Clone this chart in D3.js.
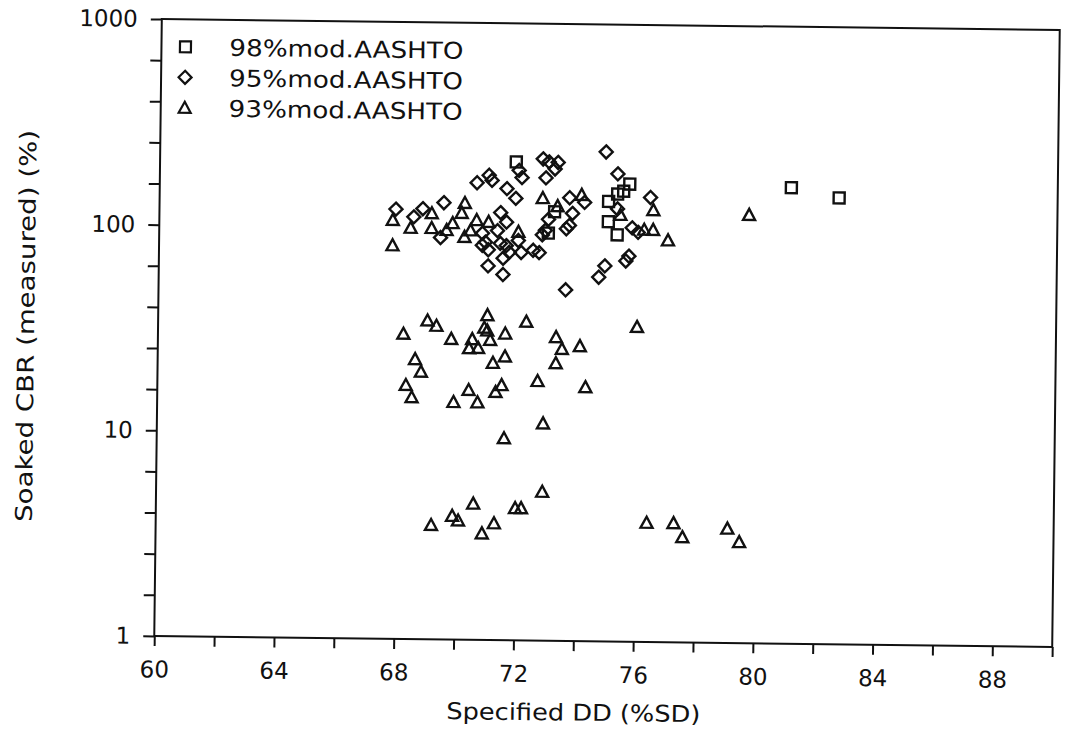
<!DOCTYPE html>
<html>
<head>
<meta charset="utf-8">
<script src="https://cdn.jsdelivr.net/npm/d3@7"></script>
<style>
  html, body { margin: 0; background: #fff; }
  svg { display: block; }
  text { font-family: "DejaVu Sans", "Liberation Sans", sans-serif; fill: #111; }
</style>
</head>
<body>
<svg id="chart" width="1067" height="734"></svg>
<script>
// Legend entries, one per compaction level
const seriesNames = ["98%mod.AASHTO", "95%mod.AASHTO", "93%mod.AASHTO"];

// [specified DD (%SD), soaked CBR (%)]
const mod98 = [
  [71.9, 212], [75.7, 168], [75.5, 155], [75.3, 150], [75.0, 138], [75.0, 110],
  [75.3, 95], [73.0, 96], [73.2, 122], [81.1, 165], [82.7, 148]
];

const mod95 = [
  [74.9, 240], [72.8, 220], [73.0, 213], [73.3, 212], [73.2, 197], [72.0, 193],
  [72.1, 178], [71.0, 182], [71.1, 172], [70.6, 167], [72.9, 178], [75.3, 188],
  [71.6, 157], [71.9, 141], [73.7, 143], [74.2, 136], [76.4, 145], [75.3, 127],
  [67.9, 123], [68.5, 113], [68.8, 124], [69.5, 133], [71.4, 120], [71.6, 108],
  [73.0, 112], [73.8, 120], [75.8, 103], [69.4, 90], [70.9, 86], [70.8, 83],
  [70.8, 95], [71.3, 98], [71.4, 85], [71.6, 83], [71.7, 77], [71.5, 72],
  [72.0, 88], [72.8, 94], [72.9, 99], [73.6, 101], [73.7, 105], [71.0, 79],
  [72.1, 77], [72.5, 79], [72.7, 77], [71.0, 66], [71.5, 60], [75.7, 75],
  [75.6, 71], [74.9, 67], [74.7, 59], [73.6, 51], [76.0, 98]
];

const mod93 = [
  // upper band
  [72.8, 142], [74.1, 148], [75.4, 119], [76.5, 126], [67.8, 109], [69.1, 118],
  [70.2, 133], [70.1, 119], [70.6, 110], [71.0, 108], [73.3, 130], [76.2, 101],
  [76.5, 101], [77.0, 90], [68.4, 100], [69.1, 100], [69.6, 98], [69.8, 106],
  [70.2, 91], [70.4, 98], [72.0, 97], [67.8, 82], [79.7, 121],
  // middle band
  [71.0, 38], [69.0, 35.5], [69.3, 33.5], [72.3, 35.5], [68.2, 30.5], [70.9, 33],
  [71.0, 32], [76.0, 34], [69.8, 29], [70.5, 29], [70.4, 26.2], [70.7, 26.3],
  [71.1, 28.8], [71.6, 31], [73.3, 30], [73.5, 26.3], [74.1, 27.2], [68.6, 23],
  [68.8, 20], [71.2, 22.3], [71.6, 24], [73.3, 22.4], [68.3, 17.2], [68.5, 15],
  [70.4, 16.4], [70.7, 14.3], [71.5, 17.4], [71.3, 16.1], [69.9, 14.3], [72.7, 18.3],
  [74.3, 17.2], [72.9, 11.4], [71.6, 9.6],
  // lower band
  [69.2, 3.6], [70.6, 4.6], [69.9, 4.0], [70.1, 3.8], [71.3, 3.7], [70.9, 3.3],
  [72.0, 4.4], [72.2, 4.4], [72.9, 5.3], [76.4, 3.8], [77.3, 3.8], [77.6, 3.25],
  [79.1, 3.6], [79.5, 3.1]
];

// Axis ticks and labels
const xTickValues = d3.range(60, 91, 2);
const xLabelValues = [60, 64, 68, 72, 76, 80, 84, 88];
const yLabelValues = [1, 10, 100, 1000];
const yTickValues = d3.range(0, 16).map(i => Math.pow(10, i / 5));

const xTitle = "Specified DD (%SD)";
const yTitle = "Soaked CBR (measured) (%)";

// Marker outlines, centred on the data point
const markerPath = {
  square: "M-5.5,-5.5h11v11h-11Z",
  diamond: "M0,-6.5L6.5,0L0,6.5L-6.5,0Z",
  triangle: "M0,-6L6,5L-6,5Z"
};
const seriesData = [mod98, mod95, mod93];
const seriesShapes = ["square", "diamond", "triangle"];

const plot = { left: 158, right: 1056, top: 24.5, bottom: 641.5 };
const x = d3.scaleLinear().domain([60, 90]).range([plot.left, plot.right]);
const y = d3.scaleLog().domain([1, 1000]).range([plot.bottom, plot.top]);

const svg = d3.select("#chart");
// The printed sheet sits slightly askew
const g = svg.append("g").attr("transform", "rotate(0.7 607 333)");

const ink = "#111";

// Plot frame
g.append("rect")
  .attr("x", plot.left).attr("y", plot.top)
  .attr("width", plot.right - plot.left).attr("height", plot.bottom - plot.top)
  .attr("fill", "none").attr("stroke", ink).attr("stroke-width", 2);

// X axis
const xAxis = d3.axisBottom(x)
  .tickValues(xTickValues)
  .tickSize(10)
  .tickPadding(15)
  .tickFormat(d => xLabelValues.includes(d) ? String(d) : "");
const gx = g.append("g").attr("transform", `translate(0,${plot.bottom})`).call(xAxis);

// Y axis (log, five ticks per decade)
const isDecade = d => Math.abs(Math.log10(d) - Math.round(Math.log10(d))) < 1e-9;
const yAxis = d3.axisLeft(y)
  .tickValues(yTickValues)
  .tickSize(11)
  .tickPadding(13)
  .tickFormat(d => isDecade(d) && yLabelValues.includes(Math.round(d)) ? String(Math.round(d)) : "");
const gy = g.append("g").attr("transform", `translate(${plot.left},0)`).call(yAxis);

[gx, gy].forEach(a => {
  a.select(".domain").remove();
  a.selectAll(".tick line").attr("stroke", ink).attr("stroke-width", 2);
  a.selectAll(".tick text")
    .attr("fill", ink)
    .style("font-family", '"DejaVu Sans", sans-serif')
    .style("font-size", "23px");
});

// Data markers
seriesData.forEach((pts, i) => {
  g.append("g")
    .selectAll("path")
    .data(pts)
    .join("path")
    .attr("d", markerPath[seriesShapes[i]])
    .attr("transform", d => `translate(${x(d[0])},${y(d[1])})`)
    .attr("fill", "none")
    .attr("stroke", ink)
    .attr("stroke-width", 2.4);
});

// Legend
const legend = g.append("g");
seriesNames.forEach((name, i) => {
  const ly = 52 + i * 30.5;
  legend.append("path")
    .attr("d", markerPath[seriesShapes[i]])
    .attr("transform", `translate(182,${ly})`)
    .attr("fill", "none").attr("stroke", ink).attr("stroke-width", 2.2);
  legend.append("text")
    .attr("x", 226).attr("y", ly + 8.5)
    .style("font-size", "23px")
    .attr("textLength", 234).attr("lengthAdjust", "spacingAndGlyphs")
    .text(name);
});

// Axis titles
g.append("text")
  .attr("x", 451).attr("y", 721)
  .style("font-size", "23px")
  .attr("textLength", 254).attr("lengthAdjust", "spacingAndGlyphs")
  .text(xTitle);

g.append("text")
  .attr("transform", "translate(26,333) rotate(-90)")
  .attr("text-anchor", "middle")
  .attr("dy", "0.35em")
  .style("font-size", "23px")
  .attr("textLength", 392).attr("lengthAdjust", "spacingAndGlyphs")
  .text(yTitle);
</script>
</body>
</html>
